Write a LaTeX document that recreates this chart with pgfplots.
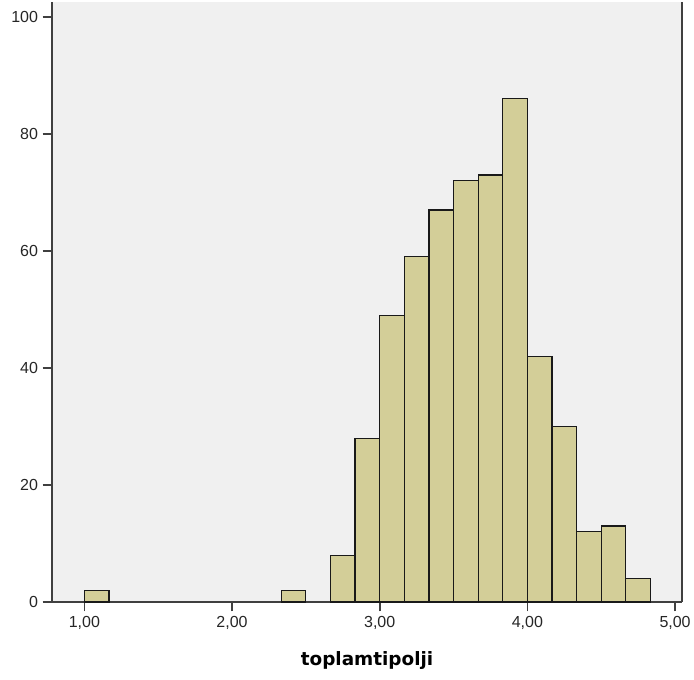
\documentclass[border=0pt]{standalone}
\usepackage{pgfplots}
\pgfplotsset{compat=1.18}
\usepackage{fontspec}
\setmainfont{Liberation Sans}
\newfontfamily\labelfont{DejaVu Sans}
\usetikzlibrary{calc}
\definecolor{barfill}{RGB}{211,206,152}
\definecolor{plotbg}{RGB}{240,240,240}

\begin{document}
\begin{tikzpicture}
\begin{axis}[
    name=ax,
    scale only axis,
    width=472.5pt, height=450pt,
    xmin=0.781, xmax=5.047,
    ymin=0, ymax=102.56,
    axis x line*=bottom, axis y line*=left,
    axis line style={black!75, line width=1.3pt, -},
    axis background/.style={fill=plotbg},
    xtick={1,2,3,4,5},
    xticklabels={{1,00},{2,00},{3,00},{4,00},{5,00}},
    ytick={0,20,40,60,80,100},
    /pgf/number format/assume math mode=true,
    tick align=outside,
    major tick length=7pt,
    tick style={black!75, line width=1.2pt},
    ticklabel style={font=\fontsize{12}{14}\selectfont, text=black!85},
    xlabel={toplamtipolji},
    xlabel style={font=\labelfont\bfseries\fontsize{13.8}{16}\selectfont, yshift=-10pt},
    ybar, bar width=0.16667,
]
% histogram bins of width 1/6, plotted at bin centres
\addplot[fill=barfill, draw=black!90, line width=0.9pt] coordinates {
    (1.08333,2) (2.41667,2) (2.75,8) (2.91667,28) (3.08333,49)
    (3.25,59) (3.41667,67) (3.58333,72) (3.75,73) (3.91667,86)
    (4.08333,42) (4.25,30) (4.41667,12) (4.58333,13) (4.75,4)
};
\end{axis}
\draw[black!75, line width=1.3pt] (ax.south east) -- (ax.north east);
\pgfresetboundingbox
\path ($(ax.south west)+(-39pt,-57.75pt)$) rectangle ($(ax.north east)+(9pt,1.5pt)$);
\end{tikzpicture}
\end{document}
